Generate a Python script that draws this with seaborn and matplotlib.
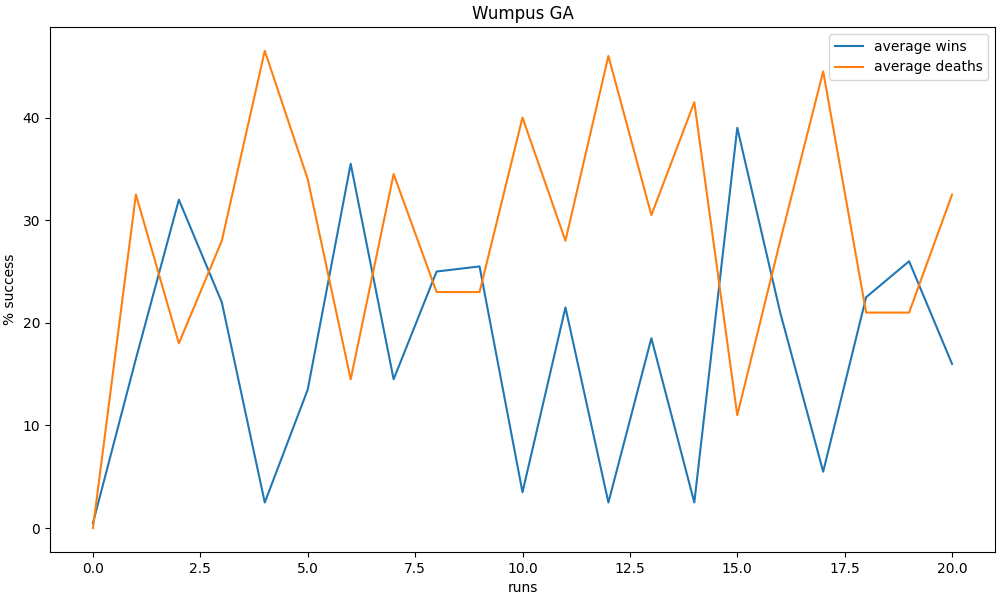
import matplotlib
matplotlib.use("Agg")
import matplotlib.pyplot as plt
import seaborn as sns

runs = list(range(21))
avg_wins = [0.5, 16.5, 32, 22, 2.5, 13.5, 35.5, 14.5, 25, 25.5, 3.5,
            21.5, 2.5, 18.5, 2.5, 39, 21, 5.5, 22.5, 26, 16]
avg_deaths = [0, 32.5, 18, 28, 46.5, 34, 14.5, 34.5, 23, 23, 40,
              28, 46, 30.5, 41.5, 11, 28, 44.5, 21, 21, 32.5]

fig, ax = plt.subplots(figsize=(10, 6), dpi=100)
sns.lineplot(x=runs, y=avg_wins, ax=ax, label="average wins")
sns.lineplot(x=runs, y=avg_deaths, ax=ax, label="average deaths")
ax.set_title("Wumpus GA")
ax.set_xlabel("runs")
ax.set_ylabel("% success")
ax.legend(loc="upper right")
fig.subplots_adjust(left=0.05, right=0.995, top=0.955, bottom=0.08)
plt.savefig("out.png")
